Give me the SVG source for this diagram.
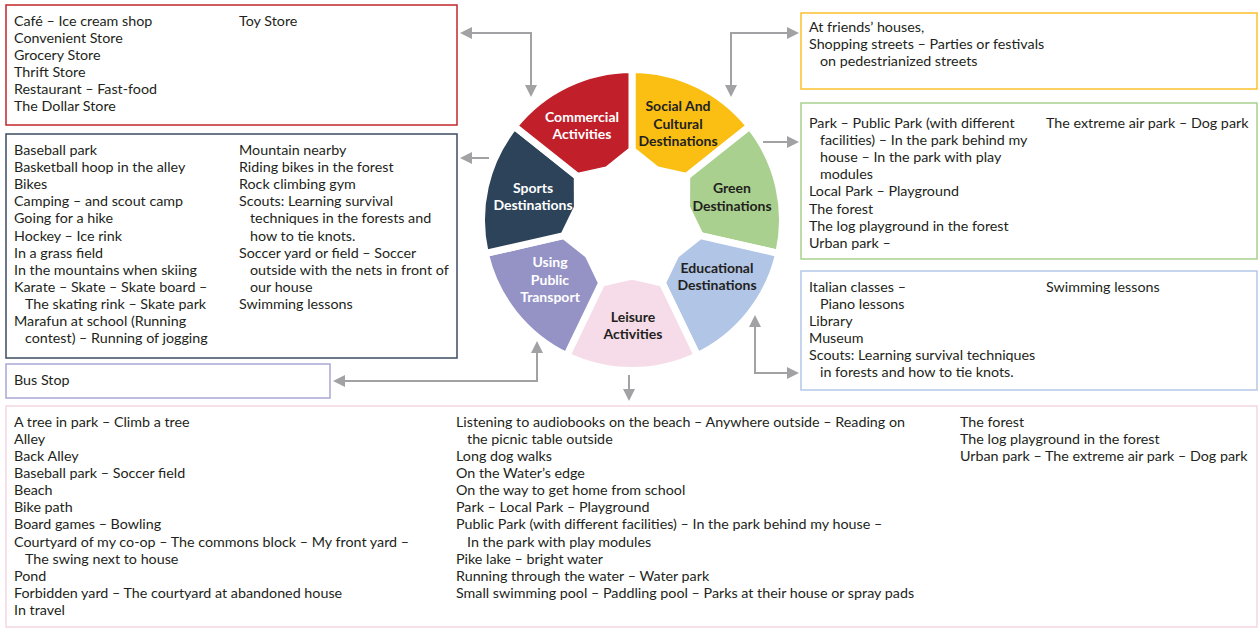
<svg xmlns="http://www.w3.org/2000/svg" width="1260" height="628" viewBox="0 0 1260 628">
<style>
.t{font-family:Lato,"Liberation Sans",sans-serif;font-size:14.3px;fill:#231f20}
.lb{font-family:Lato,"Liberation Sans",sans-serif;font-size:14px;font-weight:bold;text-anchor:middle}
.w{fill:#ffffff}
.d{fill:#231f20}
.box{fill:#ffffff;stroke-width:1.5}
.seg{stroke:#ffffff;stroke-width:7;stroke-linejoin:miter}
.conn{fill:none;stroke:#a2a2a5;stroke-width:2}
</style>
<defs>
<marker id="ah" viewBox="0 0 12 12" refX="10" refY="6" markerWidth="12" markerHeight="12" markerUnits="userSpaceOnUse" orient="auto-start-reverse">
<path d="M0,0 L12,6 L0,12 Z" fill="#a2a2a5"/>
</marker>
</defs>
<rect width="1260" height="628" fill="#ffffff"/>

<g id="wheel">
<g id="seg-social"><path class="seg" fill="#fbbf14" d="M632 69.5 A150.5 150.5 0 0 1 749.67 126.16 L686.73 176.36 L656.3 169.55 L632 150 Z"/>
<text class="lb d"><tspan x="678" y="111">Social And</tspan><tspan x="678" y="128.5">Cultural</tspan><tspan x="678" y="146">Destinations</tspan></text></g>
<g id="seg-green"><path class="seg" fill="#a9d08e" d="M749.67 126.16 A150.5 150.5 0 0 1 778.73 253.49 L700.25 235.58 L686.6 207.54 L686.73 176.36 Z"/>
<text class="lb d"><tspan x="732" y="193">Green</tspan><tspan x="732" y="210.5">Destinations</tspan></text></g>
<g id="seg-educational"><path class="seg" fill="#b1c5e6" d="M778.73 253.49 A150.5 150.5 0 0 1 697.3 355.6 L662.37 283.07 L675.78 254.92 L700.25 235.58 Z"/>
<text class="lb d"><tspan x="717" y="273">Educational</tspan><tspan x="717" y="290">Destinations</tspan></text></g>
<g id="seg-leisure"><path class="seg" fill="#f5dce8" d="M697.3 355.6 A150.5 150.5 0 0 1 566.7 355.6 L601.63 283.07 L632 276 L662.37 283.07 Z"/>
<text class="lb d"><tspan x="633" y="322">Leisure</tspan><tspan x="633" y="339">Activities</tspan></text></g>
<g id="seg-transport"><path class="seg" fill="#9593c6" d="M566.7 355.6 A150.5 150.5 0 0 1 485.27 253.49 L563.75 235.58 L588.22 254.92 L601.63 283.07 Z"/>
<text class="lb w"><tspan x="550" y="267">Using</tspan><tspan x="550" y="284.5">Public</tspan><tspan x="550" y="302">Transport</tspan></text></g>
<g id="seg-sports"><path class="seg" fill="#2c435a" d="M485.27 253.49 A150.5 150.5 0 0 1 514.33 126.16 L577.27 176.36 L577.4 207.54 L563.75 235.58 Z"/>
<text class="lb w"><tspan x="533" y="193">Sports</tspan><tspan x="533" y="210">Destinations</tspan></text></g>
<g id="seg-commercial"><path class="seg" fill="#c1202a" d="M514.33 126.16 A150.5 150.5 0 0 1 632 69.5 L632 150 L607.7 169.55 L577.27 176.36 Z"/>
<text class="lb w"><tspan x="582" y="122">Commercial</tspan><tspan x="582" y="138.5">Activities</tspan></text></g>
</g>

<g id="connectors">
<path class="conn" d="M531 95 V33 H462" marker-start="url(#ah)" marker-end="url(#ah)"/>
<path class="conn" d="M731 95 V33 H797" marker-start="url(#ah)" marker-end="url(#ah)"/>
<path class="conn" d="M489 158 H462" marker-end="url(#ah)"/>
<path class="conn" d="M763 142 H797" marker-end="url(#ah)"/>
<path class="conn" d="M537 343 V381 H335" marker-start="url(#ah)" marker-end="url(#ah)"/>
<path class="conn" d="M755 317 V373 H797" marker-start="url(#ah)" marker-end="url(#ah)"/>
<path class="conn" d="M629 375 V399" marker-end="url(#ah)"/>
</g>

<g id="box-commercial">
<rect class="box" stroke="#c1272d" x="6" y="5" width="451" height="120"/>
<text class="t"><tspan x="14" y="25.5">Café – Ice cream shop</tspan><tspan x="14" y="42.6">Convenient Store</tspan><tspan x="14" y="59.7">Grocery Store</tspan><tspan x="14" y="76.8">Thrift Store</tspan><tspan x="14" y="93.9">Restaurant – Fast-food</tspan><tspan x="14" y="111">The Dollar Store</tspan></text>
<text class="t" x="239" y="25.5">Toy Store</text>
</g>

<g id="box-social">
<rect class="box" stroke="#fbc02d" x="801" y="13" width="456" height="76"/>
<text class="t"><tspan x="809" y="32">At friends’ houses,</tspan><tspan x="809" y="49.2">Shopping streets – Parties or festivals</tspan><tspan x="820" y="66.4">on pedestrianized streets</tspan></text>
</g>

<g id="box-green">
<rect class="box" stroke="#a9d18e" x="801" y="103" width="456" height="156"/>
<text class="t"><tspan x="809" y="127.5">Park – Public Park (with different</tspan><tspan x="820" y="144.7">facilities) – In the park behind my</tspan><tspan x="820" y="161.9">house – In the park with play</tspan><tspan x="820" y="179.1">modules</tspan><tspan x="809" y="196.3">Local Park – Playground</tspan><tspan x="809" y="213.5">The forest</tspan><tspan x="809" y="230.7">The log playground in the forest</tspan><tspan x="809" y="247.9">Urban park –</tspan></text>
<text class="t" x="1046" y="127.5">The extreme air park – Dog park</text>
</g>

<g id="box-educational">
<rect class="box" stroke="#b4c7e7" x="801" y="271" width="456" height="119"/>
<text class="t"><tspan x="809" y="291.5">Italian classes –</tspan><tspan x="820" y="308.6">Piano lessons</tspan><tspan x="809" y="325.7">Library</tspan><tspan x="809" y="342.8">Museum</tspan><tspan x="809" y="359.9">Scouts: Learning survival techniques</tspan><tspan x="820" y="377">in forests and how to tie knots.</tspan></text>
<text class="t" x="1046" y="291.5">Swimming lessons</text>
</g>

<g id="box-sports">
<rect class="box" stroke="#3d4c60" x="6" y="134" width="451" height="224"/>
<text class="t"><tspan x="14" y="155">Baseball park</tspan><tspan x="14" y="172.1">Basketball hoop in the alley</tspan><tspan x="14" y="189.2">Bikes</tspan><tspan x="14" y="206.3">Camping – and scout camp</tspan><tspan x="14" y="223.4">Going for a hike</tspan><tspan x="14" y="240.5">Hockey – Ice rink</tspan><tspan x="14" y="257.6">In a grass field</tspan><tspan x="14" y="274.7">In the mountains when skiing</tspan><tspan x="14" y="291.8">Karate – Skate – Skate board –</tspan><tspan x="25" y="308.9">The skating rink – Skate park</tspan><tspan x="14" y="326">Marafun at school (Running</tspan><tspan x="25" y="343.1">contest) – Running of jogging</tspan></text>
<text class="t"><tspan x="239" y="155">Mountain nearby</tspan><tspan x="239" y="172.1">Riding bikes in the forest</tspan><tspan x="239" y="189.2">Rock climbing gym</tspan><tspan x="239" y="206.3">Scouts: Learning survival</tspan><tspan x="250" y="223.4">techniques in the forests and</tspan><tspan x="250" y="240.5">how to tie knots.</tspan><tspan x="239" y="257.6">Soccer yard or field – Soccer</tspan><tspan x="250" y="274.7">outside with the nets in front of</tspan><tspan x="250" y="291.8">our house</tspan><tspan x="239" y="308.9">Swimming lessons</tspan></text>
</g>

<g id="box-transport">
<rect class="box" stroke="#a9a6d7" x="6" y="364" width="324" height="34"/>
<text class="t" x="14" y="385">Bus Stop</text>
</g>

<g id="box-leisure">
<rect class="box" stroke="#f4d6e2" x="6" y="406" width="1251" height="221"/>
<text class="t"><tspan x="14" y="426.5">A tree in park – Climb a tree</tspan><tspan x="14" y="443.6">Alley</tspan><tspan x="14" y="460.8">Back Alley</tspan><tspan x="14" y="477.9">Baseball park – Soccer field</tspan><tspan x="14" y="495.1">Beach</tspan><tspan x="14" y="512.2">Bike path</tspan><tspan x="14" y="529.4">Board games – Bowling</tspan><tspan x="14" y="546.5">Courtyard of my co-op – The commons block – My front yard –</tspan><tspan x="25" y="563.7">The swing next to house</tspan><tspan x="14" y="580.8">Pond</tspan><tspan x="14" y="598">Forbidden yard – The courtyard at abandoned house</tspan><tspan x="14" y="615.1">In travel</tspan></text>
<text class="t"><tspan x="456" y="426.5">Listening to audiobooks on the beach – Anywhere outside – Reading on</tspan><tspan x="467" y="443.6">the picnic table outside</tspan><tspan x="456" y="460.8">Long dog walks</tspan><tspan x="456" y="477.9">On the Water’s edge</tspan><tspan x="456" y="495.1">On the way to get home from school</tspan><tspan x="456" y="512.2">Park – Local Park – Playground</tspan><tspan x="456" y="529.4">Public Park (with different facilities) – In the park behind my house –</tspan><tspan x="467" y="546.5">In the park with play modules</tspan><tspan x="456" y="563.7">Pike lake – bright water</tspan><tspan x="456" y="580.8">Running through the water – Water park</tspan><tspan x="456" y="598">Small swimming pool – Paddling pool – Parks at their house or spray pads</tspan></text>
<text class="t"><tspan x="960" y="426.5">The forest</tspan><tspan x="960" y="443.6">The log playground in the forest</tspan><tspan x="960" y="460.8">Urban park – The extreme air park – Dog park</tspan></text>
</g>
</svg>
